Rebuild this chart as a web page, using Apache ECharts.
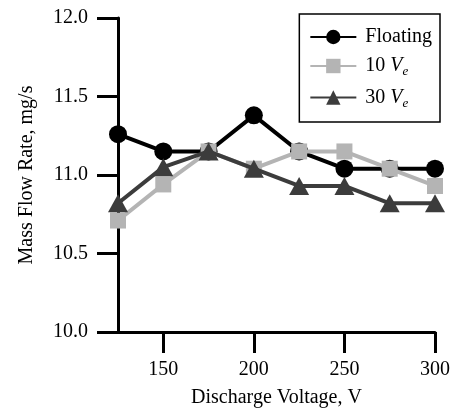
<!DOCTYPE html>
<html>
<head>
<meta charset="utf-8">
<script src="https://cdn.jsdelivr.net/npm/echarts@6/dist/echarts.min.js"></script>
<style>
  html, body { margin: 0; padding: 0; background: #fff; }
  #chart { width: 457px; height: 418px; }
</style>
</head>
<body>
<div id="chart"></div>
<script>
// 放电电压 (V)
var voltages = [125, 150, 175, 200, 225, 250, 275, 300];
var xTicks = [150, 200, 250, 300];

// 质量流量 (mg/s)
var floating = [11.26, 11.15, 11.15, 11.38, 11.15, 11.04, 11.04, 11.04];
var ve10 = [10.71, 10.94, 11.15, 11.04, 11.15, 11.15, 11.04, 10.93];
var ve30 = [10.82, 11.05, 11.15, 11.04, 10.93, 10.93, 10.82, 10.82];

var seriesNames = ['Floating', '10 Ve', '30 Ve'];

function pairs(ys) {
  return voltages.map(function (v, i) { return [v, ys[i]]; });
}

var FONT = 'Liberation Serif';

var myChart = echarts.init(document.getElementById('chart'));

var option = {
  backgroundColor: '#fff',
  animation: false,
  grid: {
    left: 118,
    right: 22,
    top: 18,
    bottom: 86
  },
  legend: {
    data: seriesNames,
    orient: 'vertical',
    right: 17,
    top: 14,
    padding: [13, 8, 12, 10],
    itemGap: 9,
    itemWidth: 46,
    itemHeight: 18,
    borderColor: '#000',
    borderWidth: 1.5,
    borderRadius: 0,
    backgroundColor: '#fff',
    textStyle: {
      fontFamily: FONT,
      fontSize: 20,
      color: '#000',
      rich: {
        n: { fontFamily: FONT, fontSize: 20, color: '#000', padding: [0, 0, 0, 4] },
        v: { fontFamily: FONT, fontSize: 20, fontStyle: 'italic', color: '#000' },
        s: { fontFamily: FONT, fontSize: 13, fontStyle: 'italic', color: '#000', padding: [12, 0, 0, 0] }
      }
    },
    formatter: function (name) {
      if (name === 'Floating') return '{n|Floating}';
      var num = name.split(' ')[0];
      return '{n|' + num + ' }{v|V}{s|e}';
    }
  },
  xAxis: {
    type: 'value',
    min: 125,
    max: 300,
    name: 'Discharge Voltage, V',
    nameLocation: 'middle',
    nameGap: 56,
    nameTextStyle: { fontFamily: FONT, fontSize: 20, color: '#000' },
    splitLine: { show: false },
    axisLine: { onZero: false, lineStyle: { color: '#000', width: 3 } },
    axisTick: {
      show: true,
      inside: false,
      length: 21,
      customValues: xTicks,
      lineStyle: { color: '#000', width: 3 }
    },
    axisLabel: {
      customValues: xTicks,
      margin: 28,
      fontFamily: FONT,
      fontSize: 20,
      color: '#000'
    }
  },
  yAxis: {
    type: 'value',
    min: 10,
    max: 12,
    interval: 0.5,
    name: 'Mass Flow Rate, mg/s',
    nameLocation: 'middle',
    nameRotate: 90,
    nameGap: 81,
    nameTextStyle: { fontFamily: FONT, fontSize: 20, color: '#000' },
    splitLine: { show: false },
    axisLine: { show: true, lineStyle: { color: '#000', width: 3 } },
    axisTick: {
      show: true,
      inside: false,
      length: 21,
      lineStyle: { color: '#000', width: 3 }
    },
    axisLabel: {
      margin: 30,
      fontFamily: FONT,
      fontSize: 20,
      color: '#000',
      formatter: function (v) { return v.toFixed(1); }
    }
  },
  series: [
    {
      name: seriesNames[0],
      type: 'line',
      data: pairs(floating),
      symbol: 'circle',
      symbolSize: 18,
      color: '#000',
      lineStyle: { width: 4, color: '#000' },
      itemStyle: { color: '#000' },
      z: 2
    },
    {
      name: seriesNames[1],
      type: 'line',
      data: pairs(ve10),
      symbol: 'rect',
      symbolSize: 16,
      color: '#b4b4b4',
      lineStyle: { width: 4, color: '#b4b4b4' },
      itemStyle: { color: '#b4b4b4' },
      z: 3
    },
    {
      name: seriesNames[2],
      type: 'line',
      data: pairs(ve30),
      symbol: 'triangle',
      symbolSize: [20, 18],
      color: '#3c3c3c',
      lineStyle: { width: 4, color: '#3c3c3c' },
      itemStyle: { color: '#3c3c3c' },
      z: 4
    }
  ]
};

myChart.setOption(option);
</script>
</body>
</html>
